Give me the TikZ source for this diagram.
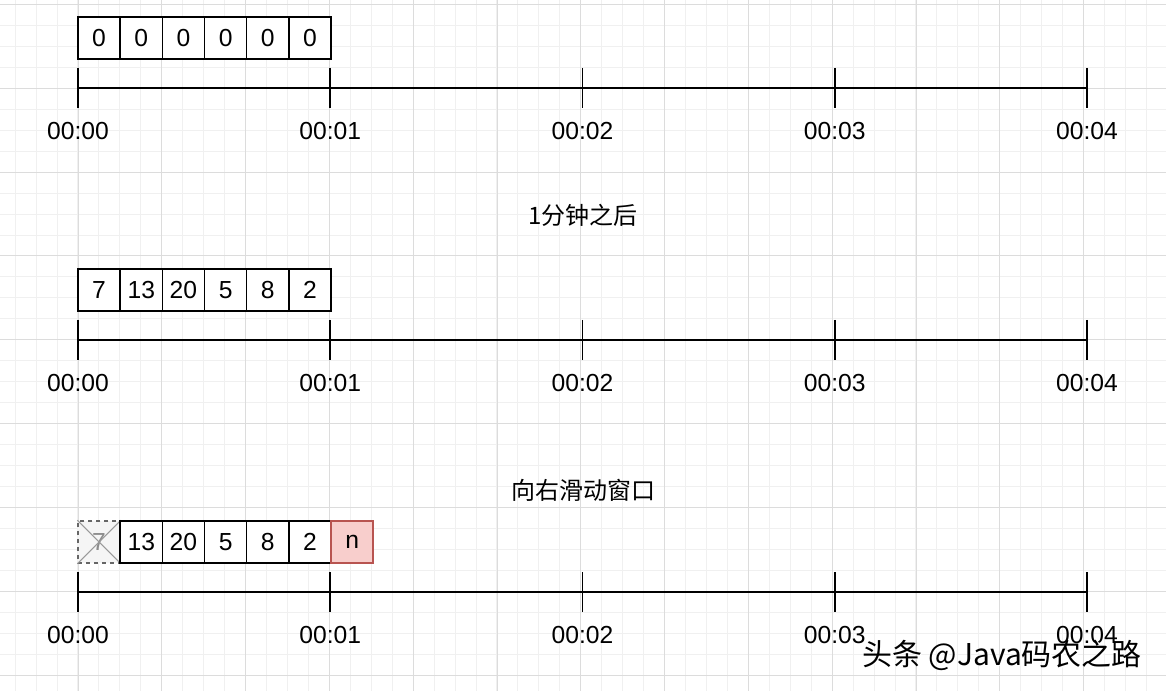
\documentclass[tikz,border=0pt]{standalone}
\usepackage{fontspec}
\setmainfont{Liberation Sans}
\newfontfamily\cjk{Noto Sans CJK SC}
\definecolor{minorg}{HTML}{F0F0F0}
\definecolor{majorg}{HTML}{DCDCDC}
\definecolor{redfill}{HTML}{F8CECC}
\definecolor{redline}{HTML}{B85450}
\definecolor{oldfill}{HTML}{F5F5F5}
\begin{document}
\begin{tikzpicture}[x=0.75pt,y=-0.75pt,
  minorgrid/.style={draw=minorg,line width=0.6pt},
  majorgrid/.style={draw=majorg,line width=0.6pt},
  cell/.style={draw=black,fill=white,line width=1.1pt,minimum width=31.6pt,minimum height=31.5pt,inner sep=0pt,font=\fontsize{18.5}{20}\selectfont},
  oldcell/.style={cell,draw=black!60,fill=oldfill,dashed,text=black!45},
  newcell/.style={cell,draw=redline,fill=redfill},
  axis/.style={line width=1.2pt},
  timelabel/.style={inner sep=0pt,font=\fontsize{18.5}{20}\selectfont},
  title/.style={inner sep=0pt,font=\cjk\fontsize{18}{20}\selectfont}]
\useasboundingbox (0,0) rectangle (1166,691);
\fill[white] (0,0) rectangle (1166,691);
% grid
\foreach \k in {0,...,55} \draw[minorgrid] ({15+20.95*\k},0) -- ({15+20.95*\k},691);
\foreach \k in {0,...,33} \draw[minorgrid] (0,{4.5+20.95*\k}) -- (1166,{4.5+20.95*\k});
\foreach \k in {0,...,13} \draw[majorgrid] ({78+83.8*\k},0) -- ({78+83.8*\k},691);
\foreach \k in {0,...,8} \draw[majorgrid] (0,{4.5+83.8*\k}) -- (1166,{4.5+83.8*\k});
% axes
\foreach \r in {0,1,2} {
  \foreach \t/\lab in {0/00:00,1/00:01,2/00:02,3/00:03,4/00:04} {
    \coordinate (top\r\t) at ({78+252.25*\t},{68+252*\r});
    \coordinate (bot\r\t) at ({78+252.25*\t},{108+252*\r});
    \coordinate (mid\r\t) at ({78+252.25*\t},{88+252*\r});
    \draw[axis] (top\r\t) -- (bot\r\t);
    \node[timelabel] (lab\r\t) at ({78+252.25*\t},{131+252*\r}) {\lab};
  }
  \draw[axis] (mid\r0) -- (mid\r4);
}
% row 1
\foreach \v [count=\i from 0] in {0,0,0,0,0,0}
  \node[cell] (a\i) at ({99.1+42.17*\i},38) {\v};
% title 1
\node[title] (t1) at (583,215) {1分钟之后};
% row 2
\foreach \v [count=\i from 0] in {7,13,20,5,8,2}
  \node[cell] (b\i) at ({99.1+42.17*\i},290) {\v};
% title 2
\node[title] (t2) at (583,490) {向右滑动窗口};
% row 3
\node[oldcell] (c0) at (99.1,542) {7};
\draw[black!40,line width=0.8pt] (c0.north west) -- (c0.south east) (c0.south west) -- (c0.north east);
\foreach \v [count=\i from 1] in {13,20,5,8,2}
  \node[cell] (c\i) at ({99.1+42.17*\i},542) {\v};
\node[newcell] (cn) at ({99.1+42.17*6},542) {n};
% watermark
\node[inner sep=0pt,text=white,font=\cjk\fontsize{22.5}{24}\selectfont] (wm0) at (1003.5,656.5) {头条 @Java码农之路};
\node[inner sep=0pt,text=black,font=\cjk\fontsize{22.5}{24}\selectfont] (wm) at (1002,655) {头条 @Java码农之路};
\end{tikzpicture}
\end{document}
